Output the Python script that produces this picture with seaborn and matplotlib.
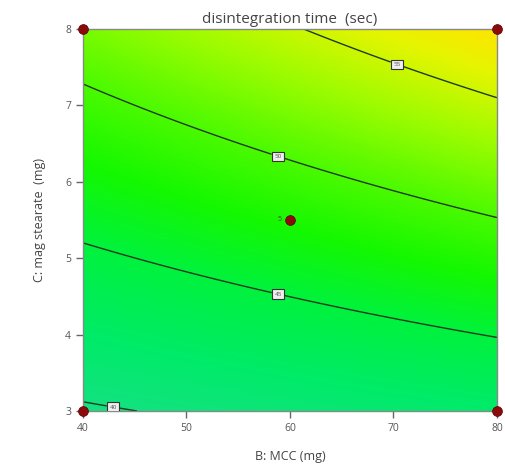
import numpy as np
import pandas as pd
import matplotlib
matplotlib.use("Agg")
import matplotlib.pyplot as plt
from matplotlib.colors import LinearSegmentedColormap
import seaborn as sns

# ---- data ----
# fitted response-surface model (coded units): intercept, B, C, BC
model_terms = ["intercept", "B", "C", "BC"]
model_coefs = [47.81, 2.09, 6.99, 0.98]
B_range = [40, 80]
C_range = [3, 8]
contour_levels = [40, 45, 50, 55]
label_positions_B = [43, 59, 59, 70.5]
label_positions_C = [3.1, 4.6, 6.4, 7.6]
design_B = [40, 40, 80, 80, 60]
design_C = [3, 8, 3, 8, 5.5]
center_reps = "5"
x_ticks = [40, 50, 60, 70, 80]
y_ticks = [3, 4, 5, 6, 7, 8]

sns.set_style("white")
plt.rcParams['font.family'] = ['Open Sans', 'DejaVu Sans']

fig = plt.figure(figsize=(5.05, 4.74), dpi=100)
ax = fig.add_axes([0.164, 0.133, 0.82, 0.806])

Bg = np.linspace(B_range[0], B_range[1], 300)
Cg = np.linspace(C_range[0], C_range[1], 300)
BB, CC = np.meshgrid(Bg, Cg)
xc = (BB - 60) / 20
zc = (CC - 5.5) / 2.5
a0, b1, c1, d1 = model_coefs
Z = a0 + b1 * xc + c1 * zc + d1 * xc * zc

zmin, zmax = Z.min(), Z.max()
node_vals = [zmin, 42.0, 45.0, 47.5, 50.0, 53.0, 56.0, zmax]
node_cols = [(20, 225, 130), (0, 235, 105), (0, 242, 60), (20, 248, 0),
             (75, 250, 0), (155, 252, 0), (230, 245, 0), (255, 228, 0)]
pos = [(v - zmin) / (zmax - zmin) for v in node_vals]
pos[0], pos[-1] = 0.0, 1.0
cm = LinearSegmentedColormap.from_list(
    "de", [(p, tuple(np.array(c) / 255)) for p, c in zip(pos, node_cols)])

ax.imshow(Z, origin="lower", extent=[40, 80, 3, 8], aspect="auto", cmap=cm,
          vmin=zmin, vmax=zmax, interpolation="bilinear")
cs = ax.contour(BB, CC, Z, levels=contour_levels, colors="#1e3a1e", linewidths=1.0)
lbls = ax.clabel(cs, fmt="%d", fontsize=4.5, inline=True, inline_spacing=3,
                 manual=list(zip(label_positions_B, label_positions_C)))
for t in lbls:
    t.set_color("#555555")
    t.set_rotation(0)
    t.set_bbox(dict(boxstyle="square,pad=0.35", fc="#eeeeee", ec="#333333", lw=0.8))

df = pd.DataFrame({"B": design_B, "C": design_C})
sns.scatterplot(data=df, x="B", y="C", ax=ax, color="#8b0a0a", s=50,
                edgecolor="#5a0000", linewidth=0.5, zorder=5, clip_on=False)
ax.text(59.2, 5.5, center_reps, fontsize=5, color="#444444", ha="right", va="center")

ax.set_xlim(40, 80)
ax.set_ylim(3, 8)
ax.set_xticks(x_ticks)
ax.set_yticks(y_ticks)
ax.tick_params(axis="both", direction="out", length=5, width=1, color="#666666",
               labelsize=7.5, labelcolor="#555555", bottom=True, left=True)
for s in ax.spines.values():
    s.set_color("#888888")
    s.set_linewidth(1)
ax.set_xlabel("B: MCC (mg)", fontsize=9, color="#444444", labelpad=12)
ax.set_ylabel("C: mag stearate  (mg)", fontsize=9, color="#444444", labelpad=14)
ax.set_title("disintegration time  (sec)", fontsize=11, color="#444444", pad=4)

fig.savefig("out.png", dpi=100)
